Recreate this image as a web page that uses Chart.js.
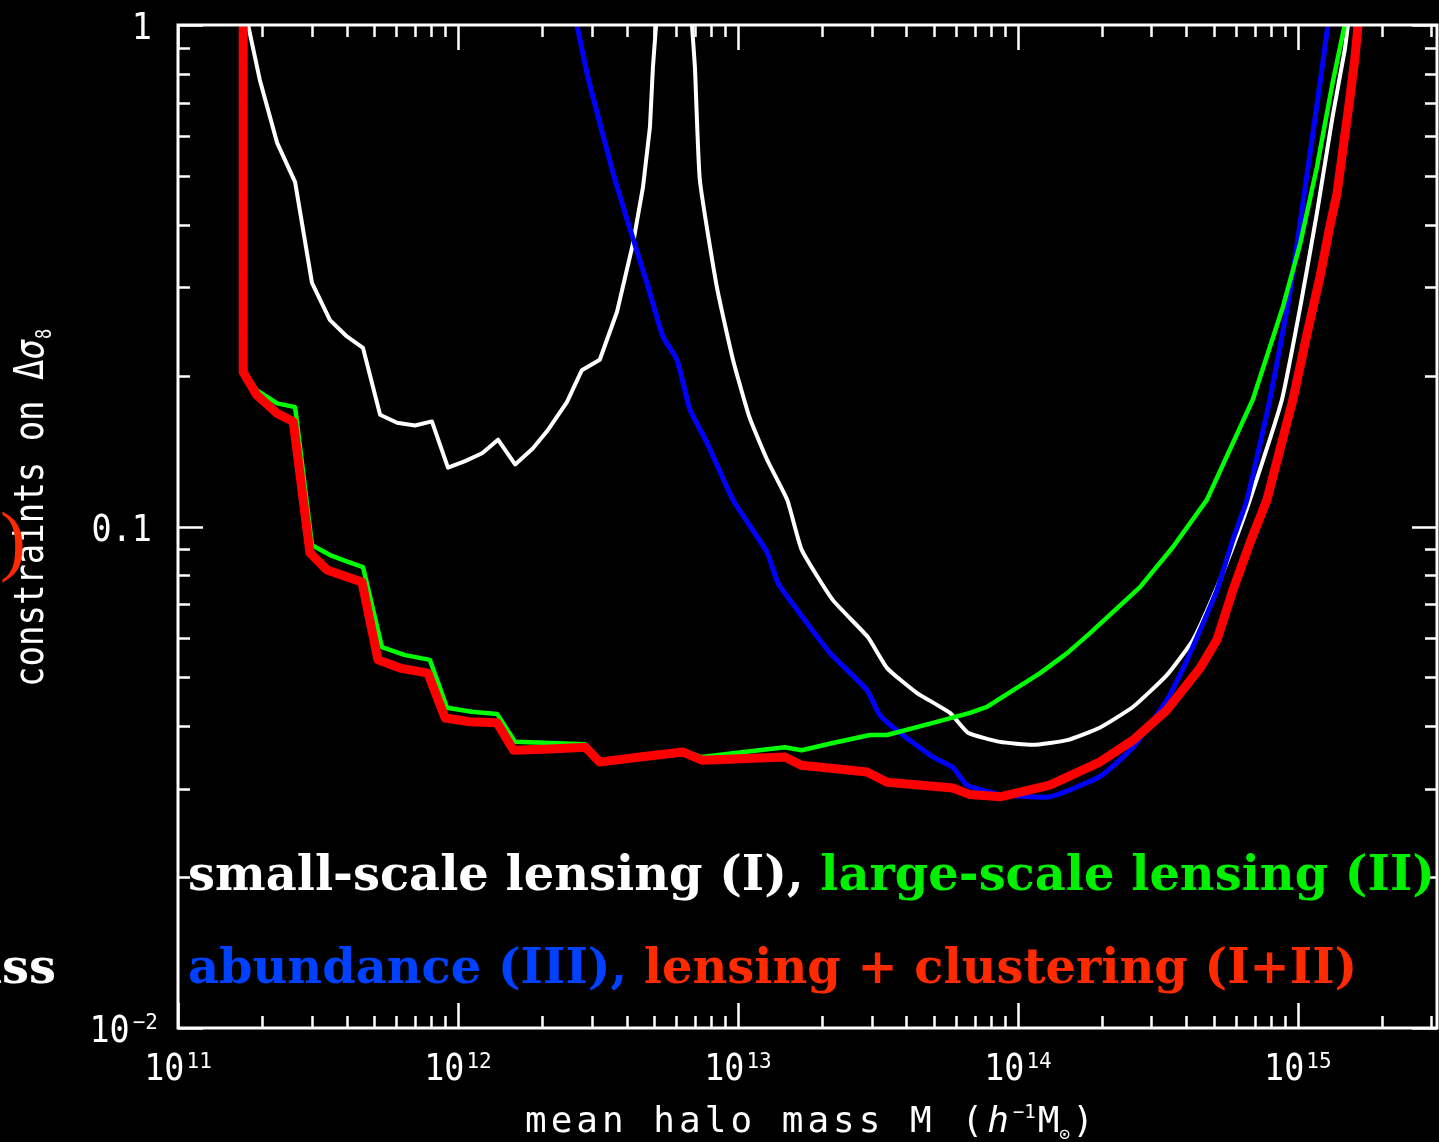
<!DOCTYPE html>
<html>
<head>
<meta charset="utf-8">
<script src="https://cdn.jsdelivr.net/npm/chart.js@4/dist/chart.umd.min.js"></script>
<style>
  html, body { margin: 0; padding: 0; background: #000; }
</style>
</head>
<body>
<canvas id="grafico" width="1439" height="1142"></canvas>
<script>
// halo mass (h^-1 Msun) and constraint on delta sigma_8
const massRed  = [1.71e11, 1.71e11, 1.91e11, 2.26e11, 2.58e11, 2.96e11, 3.41e11, 4.02e11, 4.54e11, 5.18e11,
                  6.21e11, 7.81e11, 9.00e11, 1.10e12, 1.38e12, 1.58e12, 2.13e12, 2.85e12, 3.21e12, 4.47e12,
                  6.37e12, 7.43e12, 1.47e13, 1.69e13, 2.89e13, 3.41e13, 5.86e13, 6.74e13, 8.63e13, 1.30e14,
                  1.96e14, 2.58e14, 3.41e14, 4.47e14, 5.14e14, 5.86e14, 6.74e14, 7.75e14, 9.60e14, 1.08e15,
                  1.20e15, 1.30e15, 1.38e15, 1.53e15, 1.60e15, 1.64e15];
const sigmaRed = [1.0, 0.203, 0.183, 0.168, 0.162, 0.0886, 0.0819, 0.0793, 0.0775, 0.0542,
                  0.0522, 0.0510, 0.0415, 0.0408, 0.0406, 0.0358, 0.0360, 0.0363, 0.0339, 0.0347,
                  0.0355, 0.0342, 0.0347, 0.0334, 0.0324, 0.0309, 0.0301, 0.0292, 0.0289, 0.0305,
                  0.0339, 0.0375, 0.0431, 0.0522, 0.0594, 0.0747, 0.0927, 0.113, 0.179, 0.243,
                  0.315, 0.396, 0.462, 0.708, 0.863, 1.0];

const massGreen  = [1.71e11, 1.91e11, 2.26e11, 2.62e11, 3.01e11, 3.49e11, 4.05e11, 4.58e11, 5.35e11, 6.47e11,
                    7.94e11, 9.14e11, 1.12e12, 1.38e12, 1.60e12, 2.85e12, 3.21e12, 4.47e12, 6.37e12, 7.43e12,
                    9.60e12, 1.47e13, 1.69e13, 2.18e13, 2.96e13, 3.41e13, 4.97e13, 6.74e13, 7.75e13, 1.20e14,
                    1.50e14, 1.81e14, 2.73e14, 3.58e14, 4.73e14, 6.90e14, 8.84e14, 1.02e15, 1.17e15, 1.33e15, 1.47e15];
const sigmaGreen = [0.205, 0.187, 0.176, 0.173, 0.0918, 0.0877, 0.0850, 0.0830, 0.0575, 0.0554,
                    0.0542, 0.0435, 0.0427, 0.0423, 0.0372, 0.0368, 0.0342, 0.0349, 0.0357, 0.0347,
                    0.0353, 0.0363, 0.0358, 0.0370, 0.0384, 0.0384, 0.0406, 0.0425, 0.0437, 0.0510,
                    0.0559, 0.0613, 0.0757, 0.0910, 0.113, 0.179, 0.274, 0.367, 0.521, 0.766, 1.0];

const massBlue  = [2.66e12, 2.91e12, 3.21e12, 3.58e12, 4.02e12, 4.73e12, 5.40e12, 6.06e12, 6.74e12, 7.75e12,
                   9.60e12, 1.27e13, 1.39e13, 1.66e13, 2.13e13, 2.89e13, 3.21e13, 3.79e13, 4.97e13, 5.86e13,
                   6.58e13, 8.63e13, 1.30e14, 1.96e14, 2.58e14, 3.41e14, 4.02e14, 5.14e14, 5.86e14, 6.58e14,
                   7.94e14, 9.36e14, 1.08e15, 1.20e15, 1.28e15];
const sigmaBlue = [1.0, 0.788, 0.638, 0.507, 0.409, 0.306, 0.239, 0.215, 0.171, 0.147,
                   0.113, 0.0889, 0.0771, 0.0672, 0.0560, 0.0472, 0.0421, 0.0388, 0.0347, 0.0331,
                   0.0305, 0.0292, 0.0289, 0.0317, 0.0363, 0.0451, 0.0542, 0.0747, 0.0940, 0.113,
                   0.179, 0.292, 0.507, 0.766, 1.0];

// small-scale lensing blows up near 6e12, so it is kept in two pieces
const massWhiteLo  = [1.78e11, 1.96e11, 2.26e11, 2.62e11, 3.01e11, 3.49e11, 4.02e11, 4.58e11, 5.27e11, 6.06e11,
                      7.02e11, 8.07e11, 9.21e11, 1.06e12, 1.22e12, 1.39e12, 1.60e12, 1.85e12, 2.10e12, 2.45e12,
                      2.77e12, 3.21e12, 3.70e12, 4.22e12, 4.58e12, 4.85e12, 4.97e12, 5.10e12];
const sigmaWhiteLo = [1.0, 0.777, 0.582, 0.486, 0.306, 0.258, 0.239, 0.227, 0.167, 0.161,
                      0.159, 0.162, 0.131, 0.135, 0.140, 0.149, 0.133, 0.143, 0.156, 0.177,
                      0.205, 0.215, 0.268, 0.367, 0.475, 0.626, 0.824, 1.0];
const massWhiteHi  = [6.85e12, 7.02e12, 7.31e12, 8.41e12, 9.60e12, 1.10e13, 1.27e13, 1.50e13, 1.69e13, 2.18e13,
                      2.91e13, 3.41e13, 4.35e13, 5.72e13, 6.63e13, 8.63e13, 1.13e14, 1.50e14, 1.96e14, 2.58e14,
                      3.41e14, 4.22e14, 4.97e14, 5.86e14, 6.74e14, 8.77e14, 1.02e15, 1.17e15, 1.33e15, 1.47e15, 1.51e15];
const sigmaWhiteHi = [1.0, 0.824, 0.491, 0.300, 0.215, 0.165, 0.136, 0.113, 0.0898, 0.0714,
                      0.0602, 0.0522, 0.0466, 0.0425, 0.0388, 0.0372, 0.0367, 0.0375, 0.0397, 0.0437,
                      0.0506, 0.0594, 0.0723, 0.0910, 0.113, 0.179, 0.274, 0.422, 0.656, 0.891, 1.0];

const xExponents = [11, 12, 13, 14, 15];
const yTicks = [1, 0.1, 0.01];

const pares = (xs, ys) => xs.map((x, i) => ({ x: x, y: ys[i] }));

const MONO = '"DejaVu Sans Mono", monospace';
const SERIF_B = 'bold %spx "DejaVu Serif", serif';
const SQUEEZE = 0.88;   // tick digits are narrow in the original

const marco = {
  id: 'marco',
  beforeDraw(chart) {
    const c = chart.ctx;
    c.save();
    c.fillStyle = '#000';
    c.fillRect(0, 0, chart.width, chart.height);
    c.restore();
  },
  afterDraw(chart) {
    const c = chart.ctx, a = chart.chartArea;
    const sx = chart.scales.x, sy = chart.scales.y;
    c.save();
    c.strokeStyle = '#fff';
    c.fillStyle = '#fff';

    // frame
    c.lineWidth = 3;
    c.strokeRect(a.left, a.top, a.right - a.left, a.bottom - a.top);

    // inward ticks, all four sides
    c.lineWidth = 2.5;
    c.beginPath();
    for (let e = 11; e <= 15; e++) {
      for (let k = 1; k <= 9; k++) {
        const v = k * Math.pow(10, e);
        if (v > sx.max) break;
        const px = Math.round(sx.getPixelForValue(v)) + 0.5;
        const len = k === 1 ? 25 : 12;
        c.moveTo(px, a.bottom); c.lineTo(px, a.bottom - len);
        c.moveTo(px, a.top);    c.lineTo(px, a.top + len);
      }
    }
    for (let e = -2; e <= 0; e++) {
      for (let k = 1; k <= 9; k++) {
        const v = k * Math.pow(10, e);
        if (v > sy.max * 1.0001) break;
        const py = Math.round(sy.getPixelForValue(v)) + 0.5;
        const len = k === 1 ? 25 : 12;
        c.moveTo(a.left, py);  c.lineTo(a.left + len, py);
        c.moveTo(a.right, py); c.lineTo(a.right - len, py);
      }
    }
    c.stroke();

    // squeezed digits
    const digits = (t, x0, y0) => {
      c.save();
      c.translate(x0, y0);
      c.scale(SQUEEZE, 1);
      c.fillText(t, 0, 0);
      c.restore();
    };
    const BIG = '38px ' + MONO, SMALL = '21px ' + MONO;

    // x tick labels 10^n
    c.textBaseline = 'alphabetic';
    c.textAlign = 'left';
    xExponents.forEach(e => {
      const px = sx.getPixelForValue(Math.pow(10, e));
      c.font = BIG;
      const w1 = c.measureText('10').width * SQUEEZE;
      c.font = SMALL;
      const w2 = c.measureText(String(e)).width;
      const x0 = px - (w1 + w2 + 2) / 2;
      c.font = BIG;
      digits('10', x0, a.bottom + 52);
      c.font = SMALL;
      c.fillText(String(e), x0 + w1 + 2, a.bottom + 40);
    });

    // y tick labels
    const right = a.left - 24;
    yTicks.forEach(v => {
      const py = sy.getPixelForValue(v) + 14;
      if (v === 0.01) {
        c.font = SMALL;
        const w2 = c.measureText('\u22122').width;
        c.fillText('\u22122', right - w2 + 4, py - 13);
        c.font = BIG;
        const w1 = c.measureText('10').width * SQUEEZE;
        digits('10', right - w2 + 1 - w1, py);
      } else {
        c.font = BIG;
        const t = v === 1 ? '1' : '0.1';
        digits(t, right - 2 - c.measureText(t).width * SQUEEZE, py);
      }
    });

    // x axis title
    let x = 525;
    const yb = 1132;
    const seg = (txt, font, dy) => {
      c.font = font;
      c.fillText(txt, x, yb + dy);
      x += c.measureText(txt).width;
    };
    c.letterSpacing = '4px';
    seg('mean halo mass M (', '36px ' + MONO, 0);
    seg('h', 'oblique 36px ' + MONO, 0);
    c.letterSpacing = '0px';
    seg('\u22121', '19px ' + MONO, -14);
    x += 2;
    seg('M', '36px ' + MONO, 0);
    seg('\u2299', '18px ' + MONO, 8);
    x += 2;
    seg(')', '36px ' + MONO, 0);

    // y axis title, rotated, glyphs a bit taller than the mono font
    c.save();
    c.translate(43, 687);
    c.rotate(-Math.PI / 2);
    c.scale(1, 1.2);
    x = 0;
    const segR = (txt, font, dy) => {
      c.font = font;
      c.fillText(txt, x, dy);
      x += c.measureText(txt).width;
    };
    segR('constraints on \u0394', '34px ' + MONO, 0);
    segR('\u03c3', 'oblique 34px ' + MONO, 0);
    segR('8', '17px ' + MONO, 7);
    c.restore();

    // legend text inside the panel
    const row1 = [['small-scale lensing (I), ', '#ffffff'], ['large-scale lensing (II)', '#00f000']];
    const row2 = [['abundance (III), ', '#0040ff'], ['lensing + clustering (I+II)', '#ff2a00']];
    c.font = SERIF_B.replace('%s', 50);
    const wTot = c.measureText(row1[0][0] + row1[1][0]).width;
    const size = 50 * 1247 / wTot;
    c.font = SERIF_B.replace('%s', size.toFixed(2));
    [[row1, 890], [row2, 983]].forEach(([row, yy]) => {
      let xx = a.left + 10;
      row.forEach(([t, col]) => {
        c.fillStyle = col;
        c.fillText(t, xx, yy);
        xx += c.measureText(t).width;
      });
    });

    // pieces of the neighbouring panel that stick into the picture
    c.fillStyle = '#ffffff';
    c.textAlign = 'right';
    c.fillText('mass', 56, 983);
    c.fillStyle = '#ff2a00';
    c.textAlign = 'left';
    c.font = '78px "Liberation Serif", serif';
    c.fillText(')', 0, 566);

    c.restore();
  }
};

const ctx = document.getElementById('grafico');
const chart = new Chart(ctx, {
  type: 'line',
  data: {
    datasets: [
      { label: 'lensing + clustering (I+II)', data: pares(massRed, sigmaRed), borderColor: '#ff0000', borderWidth: 9 },
      { label: 'large-scale lensing (II)', data: pares(massGreen, sigmaGreen), borderColor: '#00ff00', borderWidth: 4.5 },
      { label: 'abundance (III)', data: pares(massBlue, sigmaBlue), borderColor: '#0000ff', borderWidth: 5, tension: 0.15 },
      { label: 'small-scale lensing (I)', data: pares(massWhiteLo, sigmaWhiteLo), borderColor: '#ffffff', borderWidth: 4 },
      { label: 'small-scale lensing (I) ', data: pares(massWhiteHi, sigmaWhiteHi), borderColor: '#ffffff', borderWidth: 4, tension: 0.15 }
    ]
  },
  options: {
    responsive: false,
    animation: false,
    devicePixelRatio: 1,
    layout: { padding: { left: 178, right: 2, top: 25, bottom: 114 } },
    elements: {
      point: { radius: 0 },
      line: { tension: 0, borderJoinStyle: 'round', borderCapStyle: 'butt', fill: false }
    },
    plugins: { legend: { display: false }, tooltip: { enabled: false } },
    scales: {
      x: { type: 'logarithmic', min: 1e11, max: 3.14e15, display: false },
      y: { type: 'logarithmic', min: 0.01, max: 1, display: false }
    }
  },
  plugins: [marco]
});
</script>
</body>
</html>
